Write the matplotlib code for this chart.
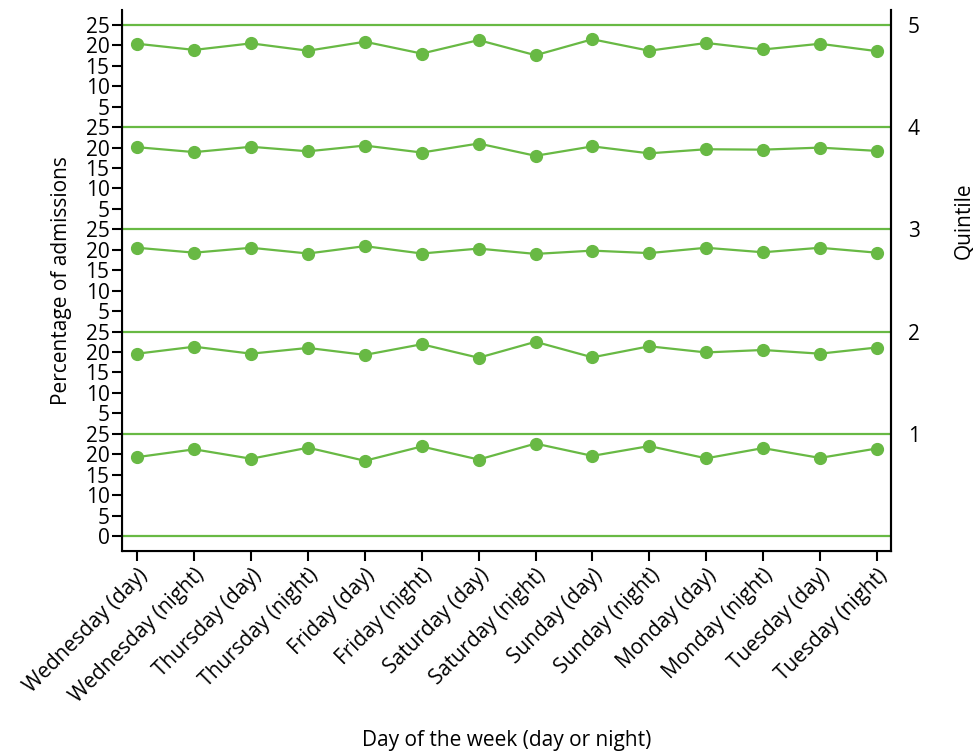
import matplotlib
matplotlib.use("Agg")
import matplotlib.pyplot as plt
import numpy as np

plt.rcParams['font.family'] = ['Open Sans', 'DejaVu Sans']

days = ["Wednesday (day)", "Wednesday (night)", "Thursday (day)", "Thursday (night)",
        "Friday (day)", "Friday (night)", "Saturday (day)", "Saturday (night)",
        "Sunday (day)", "Sunday (night)", "Monday (day)", "Monday (night)",
        "Tuesday (day)", "Tuesday (night)"]

# percentage of admissions per quintile (1 = bottom panel)
q1 = [19.3, 21.2, 18.9, 21.6, 18.4, 21.9, 18.7, 22.6, 19.6, 22.0, 19.0, 21.5, 19.1, 21.4]
q2 = [19.6, 21.3, 19.6, 21.0, 19.3, 21.9, 18.6, 22.5, 18.7, 21.4, 19.9, 20.5, 19.6, 21.1]
q3 = [20.5, 19.3, 20.5, 19.1, 20.9, 19.1, 20.3, 19.0, 19.8, 19.2, 20.5, 19.4, 20.5, 19.3]
q4 = [20.1, 18.9, 20.2, 19.1, 20.5, 18.8, 21.0, 18.0, 20.3, 18.6, 19.6, 19.5, 20.0, 19.2]
q5 = [20.4, 18.9, 20.5, 18.7, 20.9, 18.0, 21.3, 17.6, 21.5, 18.7, 20.6, 19.0, 20.4, 18.6]
quintiles = [q1, q2, q3, q4, q5]
quintile_labels = ["1", "2", "3", "4", "5"]

green = '#68b944'
panel = 25
fs = 15

fig = plt.figure(figsize=(9.73, 7.55), dpi=100)
ax = fig.add_axes([0.1254, 0.2702, 0.7903, 0.7166])

x = np.arange(len(days))
for i, q in enumerate(quintiles):
    off = i * panel
    ax.plot(x, np.array(q) + off, color=green, lw=1.6, marker='o', ms=8.5, zorder=3)
for i in range(len(quintiles) + 1):
    ax.axhline(i * panel, color=green, lw=1.6, zorder=2)

ax.set_xlim(-0.27, 13.25)
ax.set_ylim(-3.67, 128.67)

yt = np.arange(0, 130, 5)
ylabs = ["0" if v == 0 else str(v % panel if v % panel else panel) for v in yt]
ax.set_yticks(yt)
ax.set_yticklabels(ylabs, fontsize=fs)
ax.set_xticks(x)
ax.set_xticklabels(days, rotation=45, ha='right', rotation_mode='anchor', fontsize=fs)
ax.tick_params(axis='both', direction='out', length=7, width=1.5, pad=3)
ax.tick_params(axis='y', pad=2)

for s in ['left', 'bottom', 'right']:
    ax.spines[s].set_linewidth(1.5)
ax.spines['top'].set_visible(False)

ax.set_ylabel("Percentage of admissions", fontsize=fs, labelpad=10)
ax.set_xlabel("Day of the week (day or night)", fontsize=fs, labelpad=16)

ax2 = ax.twinx()
ax2.set_ylim(ax.get_ylim())
ax2.set_yticks([panel * (i + 1) for i in range(len(quintiles))])
ax2.set_yticklabels(quintile_labels, fontsize=fs)
ax2.tick_params(axis='y', length=0, pad=12)
ax2.spines['top'].set_visible(False)
ax2.spines['right'].set_linewidth(1.5)
ax2.set_ylabel("Quintile", fontsize=fs)
ax2.yaxis.set_label_coords(1.081, 0.61)

fig.savefig("out.png", dpi=100)
